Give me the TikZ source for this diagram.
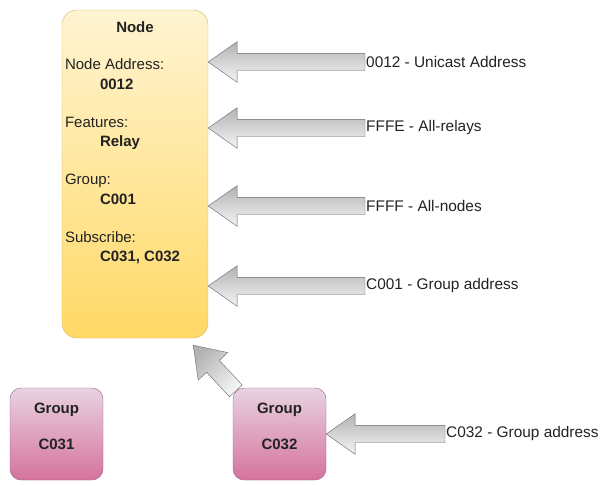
\documentclass[tikz,border=0pt]{standalone}
\usepackage{fontspec}
\setmainfont{Liberation Sans}
\usetikzlibrary{shapes.arrows}
\usetikzlibrary{calc}
\usetikzlibrary{positioning}
\definecolor{nodetop}{HTML}{FFF4D2}
\definecolor{nodebot}{HTML}{FFD966}
\definecolor{nodeline}{HTML}{D6B656}
\definecolor{grptop}{HTML}{E8D3E0}
\definecolor{grpbot}{HTML}{D5739D}
\definecolor{grpline}{HTML}{996185}
\definecolor{arrtop}{HTML}{F5F5F5}
\definecolor{arrbot}{HTML}{B3B3B3}
\definecolor{arrline}{HTML}{666666}
\definecolor{txt}{HTML}{222222}
\tikzset{
    nodebox/.style = {rectangle, rounded corners=15pt, draw=nodeline, top color=nodetop, bottom color=nodebot, minimum width=146pt, minimum height=328pt, inner sep=0pt},
    groupbox/.style = {rectangle, rounded corners=11pt, draw=grpline, top color=grptop, bottom color=grpbot, minimum width=93pt, minimum height=92pt, inner sep=0pt},
    boxtitle/.style = {font=\fontsize{15}{19.5}\selectfont\bfseries, text=txt, inner sep=0pt, anchor=base},
    boxtext/.style = {font=\fontsize{15}{19.5}\selectfont, text=txt, align=left, inner sep=0pt, anchor=north west},
    grouptext/.style = {font=\fontsize{15}{19.5}\selectfont\bfseries, text=txt, align=center, inner sep=0pt},
    lbl/.style = {font=\fontsize{15.4}{19.5}\selectfont, text=txt, anchor=west, inner sep=1pt},
    arrshape/.style = {single arrow, draw=arrline, top color=arrtop, bottom color=arrbot, inner xsep=0pt, inner ysep=8.5pt, outer sep=0pt, single arrow head extend=11.5pt, single arrow tip angle=70, single arrow head indent=0pt},
    blockarr/.style = {to path={let \p1=(\tikztostart), \p2=(\tikztotarget), \n1={atan2(\y2-\y1,\x2-\x1)}, \n2={veclen(\x2-\x1,\y2-\y1)} in node[arrshape, minimum height=\n2, rotate=\n1, shading angle=-\n1, anchor=tail] at (\p1) {}}}
}
\begin{document}
\begin{tikzpicture}[x=1pt,y=-1pt]
\useasboundingbox (0,0) rectangle (602,485);
%
\node[nodebox] at (135, 174) (box) {};
\node[boxtitle] at ($(box.north)+(0,23)$) (ttl) {Node};
\node[boxtext] at ($(box.north west)+(3,49)$) (attrs) {Node Address:\\\hspace*{35pt}\textbf{0012}\\[18.5pt]Features:\\\hspace*{35pt}\textbf{Relay}\\[18.5pt]Group:\\\hspace*{35pt}\textbf{C001}\\[18.5pt]Subscribe:\\\hspace*{35pt}\textbf{C031, C032}};
%
\node[lbl] at (365, 62) (l1) {0012 - Unicast Address};
\node[lbl] at (365, 128) (l2) {FFFE - All-relays};
\node[lbl] at (365, 206) (l3) {FFFF - All-nodes};
\node[lbl] at (365, 286) (l4) {C001 - Group address};
\node[lbl] at (445, 434) (l5) {C032 - Group address};
%
\node[groupbox] at (56.5, 434) (g1) {};
\node[grouptext] at ($(g1.center)+(0,-8)$) (t1) {Group\\[16.5pt]C031};
\node[groupbox] at (279.5, 434) (g2) {};
\node[grouptext] at ($(g2.center)+(0,-8)$) (t2) {Group\\[16.5pt]C032};
%
\coordinate (p1) at (box.east |- l1.west);
\coordinate (p2) at (box.east |- l2.west);
\coordinate (p3) at (box.east |- l3.west);
\coordinate (p4) at (box.east |- l4.west);
\coordinate (p5) at (g2.east |- l5.west);
\coordinate (p6) at ($(box.south east)+(-15,7)$);
%
\path (l1.west) to[blockarr] (p1);
\path (l2.west) to[blockarr] (p2);
\path (l3.west) to[blockarr] (p3);
\path (l4.west) to[blockarr] (p4);
\path (l5.west) to[blockarr] (p5);
\path ($(g2.north west)+(3,3)$) to[blockarr] (p6);

\end{tikzpicture}
\end{document}
